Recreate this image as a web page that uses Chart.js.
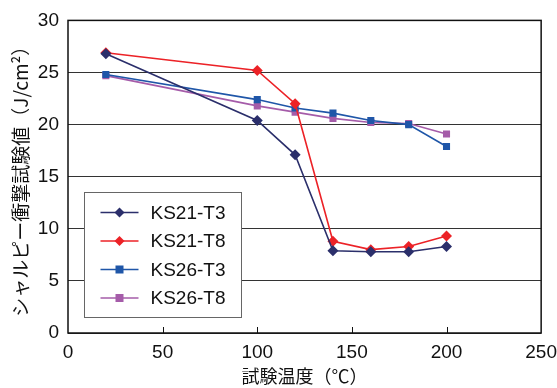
<!DOCTYPE html>
<html>
<head>
<meta charset="utf-8">
<script src="https://cdn.jsdelivr.net/npm/chart.js@4"></script>
<style>
  html, body { margin: 0; padding: 0; background: #fff; }
  #wrap { width: 557px; height: 388px; }
</style>
</head>
<body>
<div id="wrap"><canvas id="chart" width="557" height="388"></canvas></div>
<script>
// 試験温度
const temps = [20, 100, 120, 140, 160, 180, 200];
// シャルピー衝撃試験値
const ks21_t3 = [26.8, 20.4, 17.1, 7.9, 7.8, 7.8, 8.3];
const ks21_t8 = [26.9, 25.2, 22.0, 8.8, 8.0, 8.3, 9.3];
const ks26_t3 = [24.8, 22.4, 21.6, 21.1, 20.4, 20.0, 17.9];
const ks26_t8 = [24.7, 21.8, 21.2, 20.6, 20.2, 20.1, 19.1];
const seriesNames = ['KS21-T3', 'KS21-T8', 'KS26-T3', 'KS26-T8'];
const xTicks = [0, 50, 100, 150, 200, 250];

const FONT = "'Liberation Sans', Arial, sans-serif";
const JFONT = "'Noto Sans CJK JP', sans-serif";

function toPoints(vals) {
  return vals.map((v, i) => ({ x: temps[i], y: v }));
}

function mkSet(name, vals, color, shape, r) {
  return {
    label: name,
    data: toPoints(vals),
    borderColor: color,
    backgroundColor: color,
    borderWidth: 1.6,
    pointStyle: shape,
    pointRadius: r,
    pointBorderWidth: 0,
    tension: 0
  };
}

// 枠線・目盛り・凡例
const framePlugin = {
  id: 'frame',
  afterDatasetsDraw(chart) {
    const ctx = chart.ctx;
    const a = chart.chartArea;
    const xs = chart.scales.x;
    ctx.save();
    ctx.strokeStyle = '#111';
    ctx.lineWidth = 1.5;
    ctx.strokeRect(a.left, a.top, a.right - a.left, a.bottom - a.top);
    ctx.lineWidth = 1;
    xTicks.slice(1, -1).forEach(v => {
      const px = Math.round(xs.getPixelForValue(v)) + 0.5;
      ctx.beginPath();
      ctx.moveTo(px, a.bottom);
      ctx.lineTo(px, a.bottom - 6);
      ctx.stroke();
    });

    // 凡例
    const bx = 84.5, by = 192.5, bw = 157, bh = 125;
    ctx.fillStyle = '#fff';
    ctx.fillRect(bx, by, bw, bh);
    ctx.strokeStyle = '#666';
    ctx.lineWidth = 1;
    ctx.strokeRect(bx, by, bw, bh);
    ctx.font = '19px ' + FONT;
    ctx.textBaseline = 'middle';
    chart.data.datasets.forEach((ds, i) => {
      const y = by + 20 + i * 28.5;
      ctx.strokeStyle = ds.borderColor;
      ctx.lineWidth = 1.6;
      ctx.beginPath();
      ctx.moveTo(bx + 16, y);
      ctx.lineTo(bx + 54, y);
      ctx.stroke();
      ctx.fillStyle = ds.backgroundColor;
      if (ds.pointStyle === 'rectRot') {
        ctx.beginPath();
        ctx.moveTo(bx + 35, y - 5);
        ctx.lineTo(bx + 40, y);
        ctx.lineTo(bx + 35, y + 5);
        ctx.lineTo(bx + 30, y);
        ctx.closePath();
        ctx.fill();
      } else {
        ctx.fillRect(bx + 31, y - 4, 8, 8);
      }
      ctx.fillStyle = '#111';
      ctx.fillText(ds.label, bx + 66, y + 1);
    });
    ctx.restore();
  }
};

new Chart(document.getElementById('chart'), {
  type: 'line',
  data: {
    datasets: [
      mkSet(seriesNames[0], ks21_t3, '#2b2f6b', 'rectRot', 5.5),
      mkSet(seriesNames[1], ks21_t8, '#ec2227', 'rectRot', 5.5),
      mkSet(seriesNames[2], ks26_t3, '#1f56a8', 'rect', 5),
      mkSet(seriesNames[3], ks26_t8, '#a55ca9', 'rect', 5)
    ]
  },
  options: {
    responsive: false,
    animation: false,
    layout: { padding: { top: 20, right: 5, bottom: 0, left: 9 } },
    plugins: {
      legend: { display: false },
      tooltip: { enabled: false }
    },
    scales: {
      x: {
        type: 'linear',
        min: 0, max: 250,
        afterBuildTicks(s) { s.ticks = xTicks.map(v => ({ value: v })); },
        afterFit(s) { s.height = 55; },
        grid: { display: false },
        border: { display: false },
        ticks: { color: '#111', font: { size: 19, family: FONT }, padding: 0, maxRotation: 0 },
        title: { display: true, text: '試験温度（℃）', color: '#111', font: { size: 18, family: JFONT }, padding: { top: 0, bottom: 1 } }
      },
      y: {
        min: 0, max: 30,
        afterFit(s) { s.width = 59; },
        ticks: { stepSize: 5, color: '#111', font: { size: 19, family: FONT }, padding: 9 },
        grid: { color: '#333', lineWidth: 1, drawTicks: false },
        border: { display: false },
        title: { display: true, text: 'シャルピー衝撃試験値（J/cm²）', color: '#111', font: { size: 19, family: JFONT }, padding: { top: 0, bottom: 2 } }
      }
    }
  },
  plugins: [framePlugin]
});
</script>
</body>
</html>
